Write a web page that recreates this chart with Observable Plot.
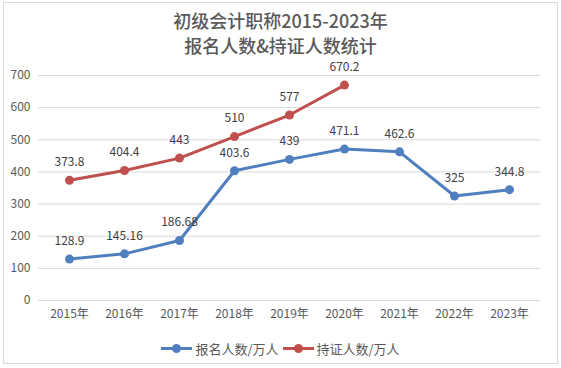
<!DOCTYPE html>
<html><head><meta charset="utf-8">
<script src="https://cdn.jsdelivr.net/npm/d3@7"></script>
<script src="https://cdn.jsdelivr.net/npm/@observablehq/plot@0.6"></script>
<style>
body{margin:0;background:#fff;}
#wrap{position:relative;width:561px;height:368px;overflow:hidden;font-family:"Noto Sans CJK SC","Noto Sans",sans-serif;}
#frame{position:absolute;left:3px;top:2px;width:553px;height:360px;border:1px solid #d9d9d9;}
.title{position:absolute;left:0;width:561px;text-align:center;font-size:18px;line-height:20px;height:20px;color:#595959;font-weight:500;font-family:"Noto Sans CJK SC",serif;}
#chart{position:absolute;left:0;top:48px;}
#legend{position:absolute;left:0;top:336px;width:561px;text-align:center;font-size:13px;color:#595959;line-height:18px;}
.li{display:inline-flex;align-items:center;margin:0 2px;}
.sw{position:relative;width:31px;height:3px;margin-right:3px;}
.sw i{position:absolute;left:11px;top:-3px;width:9px;height:9px;border-radius:50%;}
</style></head>
<body><div id="wrap"><div id="frame"></div>
<div class="title" style="top:10px">初级会计职称2015-2023年</div>
<div class="title" style="top:35px">报名人数&amp;持证人数统计</div>
<div id="chart"></div>
<div id="legend"></div>
</div>
<script>
const years = ["2015年","2016年","2017年","2018年","2019年","2020年","2021年","2022年","2023年"];
const regValues = [128.9,145.16,186.68,403.6,439,471.1,462.6,325,344.8];
const certYears = ["2015年","2016年","2017年","2018年","2019年","2020年"];
const certValues = [373.8,404.4,443,510,577,670.2];
const yTicks = [0,100,200,300,400,500,600,700];
const seriesNames = ["报名人数/万人","持证人数/万人"];
const colors = ["#4f7fbf","#c0504d"];

const reg = years.map((y,i)=>({year:y,value:regValues[i]}));
const cert = certYears.map((y,i)=>({year:y,value:certValues[i]}));

const chart = Plot.plot({
  width:561, height:282,
  marginTop:27, marginBottom:30, marginLeft:38, marginRight:21,
  style:{fontFamily:'"Noto Sans CJK SC","Noto Sans",sans-serif',fontSize:"12px",color:"#595959",background:"transparent",overflow:"visible"},
  x:{type:"point",domain:years,padding:0.5,label:null},
  y:{domain:[0,700],label:null},
  marks:[
    Plot.ruleY(yTicks,{stroke:"#d9d9d9",strokeWidth:1}),
    Plot.axisY({ticks:yTicks,tickSize:0,tickPadding:8,label:null,fill:"#595959"}),
    Plot.axisX({tickSize:0,tickPadding:9,label:null,fill:"#595959"}),
    Plot.line(reg,{x:"year",y:"value",stroke:colors[0],strokeWidth:3}),
    Plot.dot(reg,{x:"year",y:"value",fill:colors[0],r:4.5}),
    Plot.line(cert,{x:"year",y:"value",stroke:colors[1],strokeWidth:3}),
    Plot.dot(cert,{x:"year",y:"value",fill:colors[1],r:4.5}),
    Plot.text(reg,{x:"year",y:"value",text:d=>String(d.value),dy:-18,fill:"#404040",fontSize:12}),
    Plot.text(cert,{x:"year",y:"value",text:d=>String(d.value),dy:-18,fill:"#404040",fontSize:12})
  ]
});
document.getElementById("chart").appendChild(chart);

const lg = document.getElementById("legend");
seriesNames.forEach((n,i)=>{
  const s=document.createElement("span");s.className="li";
  s.innerHTML=`<span class="sw" style="background:${colors[i]}"><i style="background:${colors[i]}"></i></span>${n}`;
  lg.appendChild(s);
});
</script>
</body></html>
